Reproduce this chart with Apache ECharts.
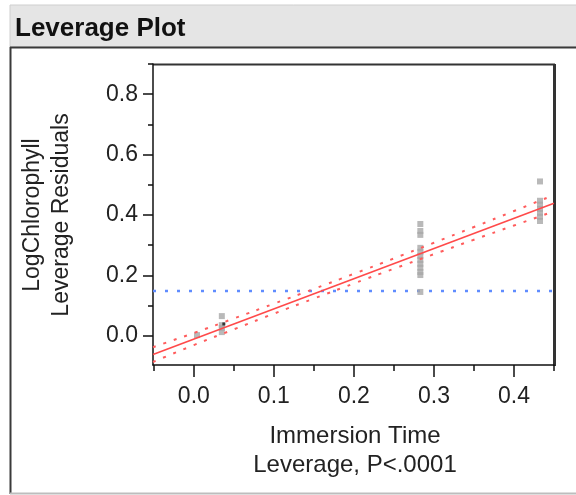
<!DOCTYPE html>
<html>
<head>
<meta charset="utf-8">
<script src="https://cdn.jsdelivr.net/npm/echarts@6/dist/echarts.min.js"></script>
<style>
  html, body { margin: 0; padding: 0; background: #fff; }
  #chart { width: 576px; height: 495px; }
</style>
</head>
<body>
<div id="chart"></div>
<script>
// Leverage residuals for Immersion Time (x = leverage, y = residual)
const residX = [0.035, 0.035, 0.035, 0.035, 0.004,
  0.283, 0.283, 0.283, 0.283, 0.283, 0.283, 0.283, 0.283, 0.283, 0.283, 0.283, 0.283,
  0.4325, 0.4325, 0.4325, 0.4325, 0.4325, 0.4325, 0.4325];
const residY = [0.065, 0.035, 0.026, 0.012, 0.002,
  0.370, 0.347, 0.334, 0.291, 0.278, 0.264, 0.251, 0.238, 0.225, 0.211, 0.201, 0.145,
  0.511, 0.447, 0.434, 0.420, 0.407, 0.394, 0.380];
// selected row
const selX = [0.0375];
const selY = [0.039];

// fitted line
const fitX = [-0.051, 0.45];
const fitY = [-0.062, 0.439];

// confidence curves around the fit
const bandX = [-0.051, 0.0, 0.05, 0.10, 0.15, 0.20, 0.25, 0.30, 0.35, 0.40, 0.45];
const bandUpper = [-0.038, 0.009, 0.057, 0.106, 0.155, 0.205, 0.256, 0.308, 0.360, 0.413, 0.466];
const bandLower = [-0.087, -0.031, 0.021, 0.073, 0.123, 0.173, 0.222, 0.270, 0.318, 0.365, 0.412];

// horizontal line at the response mean
const meanY = 0.148;

// tick values
const xMajor = [0, 0.1, 0.2, 0.3, 0.4];
const xMinor = [-0.05, 0.05, 0.15, 0.25, 0.35, 0.45];
const yMajor = [0, 0.2, 0.4, 0.6, 0.8];
const yMinor = [0.1, 0.3, 0.5, 0.7, 0.9];

const FONT = "'Liberation Sans', Arial, sans-serif";
const X_MIN = -0.051, X_MAX = 0.45, Y_MIN = -0.097, Y_MAX = 0.9;

const zip = (xs, ys) => xs.map((x, i) => [x, ys[i]]);

const chart = echarts.init(document.getElementById('chart'), null, { renderer: 'canvas' });

const GRID = { left: 153, top: 64, width: 401, height: 301 };

chart.setOption({
  animation: false,
  backgroundColor: '#fff',
  title: {
    text: 'Leverage Plot',
    left: 10, top: 11,
    textStyle: { fontFamily: FONT, fontWeight: 'bold', fontSize: 26, color: '#111' }
  },
  grid: GRID,
  xAxis: [
    {
      type: 'value', min: X_MIN, max: X_MAX, position: 'bottom',
      splitLine: { show: false },
      axisLine: { show: true, onZero: false, lineStyle: { color: '#111', width: 1.5 } },
      axisTick: { show: true, customValues: xMajor, length: 12, lineStyle: { color: '#111', width: 1.5 } },
      axisLabel: { customValues: xMajor, formatter: v => v.toFixed(1), fontFamily: FONT, fontSize: 23, color: '#222', margin: 20 }
    },
    {
      type: 'value', min: X_MIN, max: X_MAX, position: 'bottom',
      splitLine: { show: false },
      axisLine: { show: false, onZero: false },
      axisTick: { show: true, customValues: xMinor, length: 6, lineStyle: { color: '#111', width: 1.5 } },
      axisLabel: { show: false }
    }
  ],
  yAxis: [
    {
      type: 'value', min: Y_MIN, max: Y_MAX, position: 'left',
      splitLine: { show: false },
      axisLine: { show: true, onZero: false, lineStyle: { color: '#111', width: 1.5 } },
      axisTick: { show: true, customValues: yMajor, length: 10, lineStyle: { color: '#111', width: 1.5 } },
      axisLabel: { customValues: yMajor, formatter: v => v.toFixed(1), fontFamily: FONT, fontSize: 23, color: '#222', margin: 15 }
    },
    {
      type: 'value', min: Y_MIN, max: Y_MAX, position: 'left',
      splitLine: { show: false },
      axisLine: { show: false, onZero: false },
      axisTick: { show: true, customValues: yMinor, length: 5, lineStyle: { color: '#111', width: 1.5 } },
      axisLabel: { show: false }
    }
  ],
  graphic: [
    // title bar
    { type: 'rect', shape: { x: 10, y: 5, width: 570, height: 42 },
      style: { fill: '#e5e5e5', stroke: '#cfcfcf', lineWidth: 1 }, z: -10 },
    { type: 'line', shape: { x1: 10, y1: 47.5, x2: 576, y2: 47.5 },
      style: { stroke: '#3a3a3a', lineWidth: 2 } },
    // outline panel
    { type: 'line', shape: { x1: 10.5, y1: 47, x2: 10.5, y2: 494 },
      style: { stroke: '#3a3a3a', lineWidth: 2 } },
    { type: 'line', shape: { x1: 10, y1: 493.5, x2: 576, y2: 493.5 },
      style: { stroke: '#bdbdbd', lineWidth: 2 } },
    // frame top & right of plot
    { type: 'line', shape: { x1: 153, y1: 64.5, x2: 555, y2: 64.5 },
      style: { stroke: '#333', lineWidth: 2 } },
    { type: 'line', shape: { x1: 554.5, y1: 64, x2: 554.5, y2: 366 },
      style: { stroke: '#333', lineWidth: 3 } },
    // axis titles
    { type: 'text', x: 355, y: 451,
      style: { text: 'Immersion Time\nLeverage, P<.0001', fontFamily: FONT, fontSize: 24, lineHeight: 29,
        fill: '#222', align: 'center', verticalAlign: 'middle' } },
    { type: 'text', x: 47, y: 215, rotation: Math.PI / 2,
      style: { text: 'LogChlorophyll\nLeverage Residuals', fontFamily: FONT, fontSize: 23, lineHeight: 29,
        fill: '#222', align: 'center', verticalAlign: 'middle' } }
  ],
  series: [
    {
      name: 'Mean', type: 'line', xAxisIndex: 0, yAxisIndex: 0,
      data: [[X_MIN, meanY], [X_MAX, meanY]], symbol: 'none', z: 1,
      lineStyle: { color: '#5f8cff', width: 2.5, type: [3, 9] }
    },
    {
      name: 'Residuals', type: 'scatter', xAxisIndex: 0, yAxisIndex: 0,
      data: zip(residX, residY), symbol: 'rect', symbolSize: 6, z: 2,
      itemStyle: { color: '#a8a8a8' }
    },
    {
      name: 'Selected', type: 'scatter', xAxisIndex: 0, yAxisIndex: 0,
      data: zip(selX, selY), symbol: 'rect', symbolSize: 3, z: 3,
      itemStyle: { color: '#111' }
    },
    {
      name: 'Fit', type: 'line', xAxisIndex: 0, yAxisIndex: 0,
      data: zip(fitX, fitY), symbol: 'none', z: 4,
      lineStyle: { color: '#ff4a4a', width: 1.6 }
    },
    {
      name: 'Upper', type: 'line', xAxisIndex: 0, yAxisIndex: 0, smooth: true,
      data: zip(bandX, bandUpper), symbol: 'none', z: 4,
      lineStyle: { color: '#ff5c5c', width: 2, type: [3, 8] }
    },
    {
      name: 'Lower', type: 'line', xAxisIndex: 0, yAxisIndex: 0, smooth: true,
      data: zip(bandX, bandLower), symbol: 'none', z: 4,
      lineStyle: { color: '#ff5c5c', width: 2, type: [3, 8] }
    }
  ]
});
</script>
</body>
</html>
